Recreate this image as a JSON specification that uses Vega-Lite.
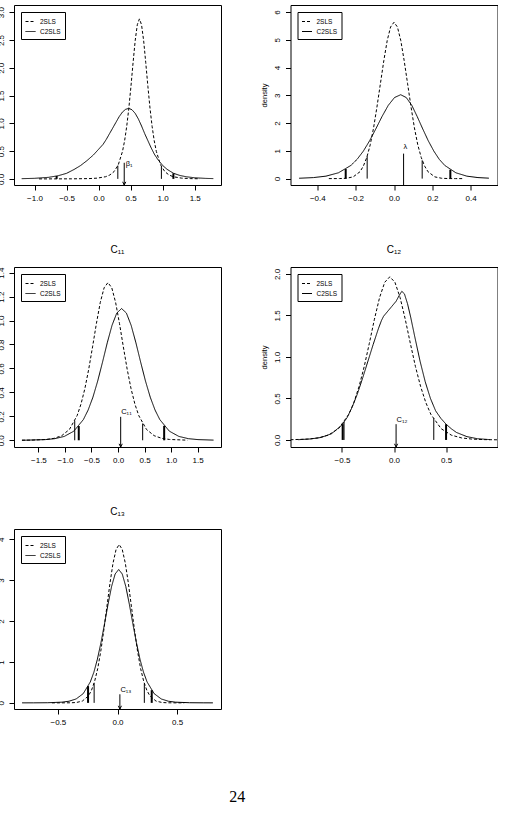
{
"$schema": "https://vega.github.io/schema/vega-lite/v6.json",
"background": "white",
"padding": {"left": -4, "top": 4, "right": 0, "bottom": 0},
"title": {"text": "24", "orient": "bottom", "font": "Liberation Serif", "fontSize": 16, "fontWeight": "normal", "offset": 62, "dx": -10, "anchor": "middle", "frame": "bounds", "color": "black"},
"datasets": {
"curves": [
{"p":"b1","s":"2SLS","x":-0.93,"y":0.0001},{"p":"b1","s":"2SLS","x":-0.69,"y":0.0003},{"p":"b1","s":"2SLS","x":-0.42,"y":0.0011},{"p":"b1","s":"2SLS","x":-0.155,"y":0.0052},{"p":"b1","s":"2SLS","x":-0.023,"y":0.0133},{"p":"b1","s":"2SLS","x":0.109,"y":0.0389},{"p":"b1","s":"2SLS","x":0.175,"y":0.0701},{"p":"b1","s":"2SLS","x":0.241,"y":0.131},{"p":"b1","s":"2SLS","x":0.307,"y":0.253},{"p":"b1","s":"2SLS","x":0.373,"y":0.494},{"p":"b1","s":"2SLS","x":0.406,"y":0.687},{"p":"b1","s":"2SLS","x":0.439,"y":0.945},{"p":"b1","s":"2SLS","x":0.472,"y":1.274},{"p":"b1","s":"2SLS","x":0.505,"y":1.667},{"p":"b1","s":"2SLS","x":0.538,"y":2.091},{"p":"b1","s":"2SLS","x":0.571,"y":2.488},{"p":"b1","s":"2SLS","x":0.604,"y":2.775},{"p":"b1","s":"2SLS","x":0.637,"y":2.88},{"p":"b1","s":"2SLS","x":0.67,"y":2.775},{"p":"b1","s":"2SLS","x":0.703,"y":2.488},{"p":"b1","s":"2SLS","x":0.736,"y":2.091},{"p":"b1","s":"2SLS","x":0.769,"y":1.667},{"p":"b1","s":"2SLS","x":0.802,"y":1.274},{"p":"b1","s":"2SLS","x":0.835,"y":0.945},{"p":"b1","s":"2SLS","x":0.868,"y":0.687},{"p":"b1","s":"2SLS","x":0.901,"y":0.494},{"p":"b1","s":"2SLS","x":0.967,"y":0.253},{"p":"b1","s":"2SLS","x":1.033,"y":0.131},{"p":"b1","s":"2SLS","x":1.099,"y":0.0701},{"p":"b1","s":"2SLS","x":1.165,"y":0.0389},{"p":"b1","s":"2SLS","x":1.297,"y":0.0133},{"p":"b1","s":"2SLS","x":1.429,"y":0.0052},{"p":"b1","s":"2SLS","x":1.58,"y":0.002},
{"p":"b1","s":"C2SLS","x":-1.2,"y":0.004},{"p":"b1","s":"C2SLS","x":-1.0,"y":0.01},{"p":"b1","s":"C2SLS","x":-0.78,"y":0.028},{"p":"b1","s":"C2SLS","x":-0.63,"y":0.057},{"p":"b1","s":"C2SLS","x":-0.5,"y":0.1},{"p":"b1","s":"C2SLS","x":-0.38,"y":0.171},{"p":"b1","s":"C2SLS","x":-0.28,"y":0.241},{"p":"b1","s":"C2SLS","x":-0.18,"y":0.33},{"p":"b1","s":"C2SLS","x":-0.08,"y":0.432},{"p":"b1","s":"C2SLS","x":0.0,"y":0.533},{"p":"b1","s":"C2SLS","x":0.07,"y":0.622},{"p":"b1","s":"C2SLS","x":0.12,"y":0.711},{"p":"b1","s":"C2SLS","x":0.17,"y":0.813},{"p":"b1","s":"C2SLS","x":0.22,"y":0.914},{"p":"b1","s":"C2SLS","x":0.27,"y":1.016},{"p":"b1","s":"C2SLS","x":0.32,"y":1.118},{"p":"b1","s":"C2SLS","x":0.37,"y":1.2},{"p":"b1","s":"C2SLS","x":0.42,"y":1.251},{"p":"b1","s":"C2SLS","x":0.47,"y":1.27},{"p":"b1","s":"C2SLS","x":0.52,"y":1.245},{"p":"b1","s":"C2SLS","x":0.57,"y":1.181},{"p":"b1","s":"C2SLS","x":0.62,"y":1.08},{"p":"b1","s":"C2SLS","x":0.67,"y":0.953},{"p":"b1","s":"C2SLS","x":0.72,"y":0.813},{"p":"b1","s":"C2SLS","x":0.77,"y":0.686},{"p":"b1","s":"C2SLS","x":0.82,"y":0.559},{"p":"b1","s":"C2SLS","x":0.87,"y":0.445},{"p":"b1","s":"C2SLS","x":0.92,"y":0.356},{"p":"b1","s":"C2SLS","x":1.0,"y":0.241},{"p":"b1","s":"C2SLS","x":1.07,"y":0.171},{"p":"b1","s":"C2SLS","x":1.17,"y":0.1},{"p":"b1","s":"C2SLS","x":1.27,"y":0.061},{"p":"b1","s":"C2SLS","x":1.37,"y":0.038},{"p":"b1","s":"C2SLS","x":1.5,"y":0.02},{"p":"b1","s":"C2SLS","x":1.67,"y":0.009},{"p":"b1","s":"C2SLS","x":1.79,"y":0.005},
{"p":"lam","s":"2SLS","x":-0.34,"y":0.0001},{"p":"lam","s":"2SLS","x":-0.32,"y":0.0002},{"p":"lam","s":"2SLS","x":-0.284,"y":0.0019},{"p":"lam","s":"2SLS","x":-0.2485,"y":0.0123},{"p":"lam","s":"2SLS","x":-0.213,"y":0.0625},{"p":"lam","s":"2SLS","x":-0.1775,"y":0.247},{"p":"lam","s":"2SLS","x":-0.16,"y":0.448},{"p":"lam","s":"2SLS","x":-0.142,"y":0.762},{"p":"lam","s":"2SLS","x":-0.124,"y":1.218},{"p":"lam","s":"2SLS","x":-0.1065,"y":1.828},{"p":"lam","s":"2SLS","x":-0.089,"y":2.577},{"p":"lam","s":"2SLS","x":-0.071,"y":3.415},{"p":"lam","s":"2SLS","x":-0.053,"y":4.25},{"p":"lam","s":"2SLS","x":-0.0355,"y":4.968},{"p":"lam","s":"2SLS","x":-0.018,"y":5.457},{"p":"lam","s":"2SLS","x":0,"y":5.63},{"p":"lam","s":"2SLS","x":0.018,"y":5.457},{"p":"lam","s":"2SLS","x":0.0355,"y":4.968},{"p":"lam","s":"2SLS","x":0.053,"y":4.25},{"p":"lam","s":"2SLS","x":0.071,"y":3.415},{"p":"lam","s":"2SLS","x":0.089,"y":2.577},{"p":"lam","s":"2SLS","x":0.1065,"y":1.828},{"p":"lam","s":"2SLS","x":0.124,"y":1.218},{"p":"lam","s":"2SLS","x":0.142,"y":0.762},{"p":"lam","s":"2SLS","x":0.16,"y":0.448},{"p":"lam","s":"2SLS","x":0.1775,"y":0.247},{"p":"lam","s":"2SLS","x":0.213,"y":0.0625},{"p":"lam","s":"2SLS","x":0.2485,"y":0.0123},{"p":"lam","s":"2SLS","x":0.284,"y":0.0019},{"p":"lam","s":"2SLS","x":0.32,"y":0.0002},{"p":"lam","s":"2SLS","x":0.36,"y":0.0001},
{"p":"lam","s":"C2SLS","x":-0.495,"y":0.014},{"p":"lam","s":"C2SLS","x":-0.485,"y":0.0158},{"p":"lam","s":"C2SLS","x":-0.42,"y":0.0371},{"p":"lam","s":"C2SLS","x":-0.355,"y":0.0885},{"p":"lam","s":"C2SLS","x":-0.29,"y":0.209},{"p":"lam","s":"C2SLS","x":-0.225,"y":0.474},{"p":"lam","s":"C2SLS","x":-0.1925,"y":0.695},{"p":"lam","s":"C2SLS","x":-0.16,"y":0.989},{"p":"lam","s":"C2SLS","x":-0.1275,"y":1.359},{"p":"lam","s":"C2SLS","x":-0.095,"y":1.788},{"p":"lam","s":"C2SLS","x":-0.0625,"y":2.235},{"p":"lam","s":"C2SLS","x":-0.03,"y":2.636},{"p":"lam","s":"C2SLS","x":0.0025,"y":2.918},{"p":"lam","s":"C2SLS","x":0.035,"y":3.02},{"p":"lam","s":"C2SLS","x":0.064,"y":2.918},{"p":"lam","s":"C2SLS","x":0.093,"y":2.636},{"p":"lam","s":"C2SLS","x":0.121,"y":2.235},{"p":"lam","s":"C2SLS","x":0.15,"y":1.788},{"p":"lam","s":"C2SLS","x":0.179,"y":1.359},{"p":"lam","s":"C2SLS","x":0.208,"y":0.989},{"p":"lam","s":"C2SLS","x":0.236,"y":0.695},{"p":"lam","s":"C2SLS","x":0.265,"y":0.474},{"p":"lam","s":"C2SLS","x":0.323,"y":0.209},{"p":"lam","s":"C2SLS","x":0.38,"y":0.0885},{"p":"lam","s":"C2SLS","x":0.438,"y":0.0371},{"p":"lam","s":"C2SLS","x":0.495,"y":0.0158},
{"p":"c11","s":"2SLS","x":-1.81,"y":0.0005},{"p":"c11","s":"2SLS","x":-1.64,"y":0.0013},{"p":"c11","s":"2SLS","x":-1.35,"y":0.0069},{"p":"c11","s":"2SLS","x":-1.205,"y":0.0162},{"p":"c11","s":"2SLS","x":-1.06,"y":0.0386},{"p":"c11","s":"2SLS","x":-0.915,"y":0.0911},{"p":"c11","s":"2SLS","x":-0.77,"y":0.207},{"p":"c11","s":"2SLS","x":-0.6975,"y":0.303},{"p":"c11","s":"2SLS","x":-0.625,"y":0.431},{"p":"c11","s":"2SLS","x":-0.5525,"y":0.593},{"p":"c11","s":"2SLS","x":-0.48,"y":0.78},{"p":"c11","s":"2SLS","x":-0.4075,"y":0.975},{"p":"c11","s":"2SLS","x":-0.335,"y":1.15},{"p":"c11","s":"2SLS","x":-0.2625,"y":1.273},{"p":"c11","s":"2SLS","x":-0.19,"y":1.317},{"p":"c11","s":"2SLS","x":-0.1175,"y":1.273},{"p":"c11","s":"2SLS","x":-0.045,"y":1.15},{"p":"c11","s":"2SLS","x":0.0275,"y":0.975},{"p":"c11","s":"2SLS","x":0.1,"y":0.78},{"p":"c11","s":"2SLS","x":0.1725,"y":0.593},{"p":"c11","s":"2SLS","x":0.245,"y":0.431},{"p":"c11","s":"2SLS","x":0.3175,"y":0.303},{"p":"c11","s":"2SLS","x":0.39,"y":0.207},{"p":"c11","s":"2SLS","x":0.535,"y":0.0911},{"p":"c11","s":"2SLS","x":0.68,"y":0.0386},{"p":"c11","s":"2SLS","x":0.825,"y":0.0162},{"p":"c11","s":"2SLS","x":0.97,"y":0.0069},{"p":"c11","s":"2SLS","x":1.31,"y":0.001},
{"p":"c11","s":"C2SLS","x":-1.81,"y":0.0008},{"p":"c11","s":"C2SLS","x":-1.733,"y":0.0011},{"p":"c11","s":"C2SLS","x":-1.373,"y":0.0057},{"p":"c11","s":"C2SLS","x":-1.193,"y":0.0135},{"p":"c11","s":"C2SLS","x":-1.013,"y":0.0322},{"p":"c11","s":"C2SLS","x":-0.833,"y":0.0761},{"p":"c11","s":"C2SLS","x":-0.653,"y":0.173},{"p":"c11","s":"C2SLS","x":-0.563,"y":0.253},{"p":"c11","s":"C2SLS","x":-0.473,"y":0.36},{"p":"c11","s":"C2SLS","x":-0.383,"y":0.495},{"p":"c11","s":"C2SLS","x":-0.293,"y":0.651},{"p":"c11","s":"C2SLS","x":-0.203,"y":0.814},{"p":"c11","s":"C2SLS","x":-0.113,"y":0.96},{"p":"c11","s":"C2SLS","x":-0.023,"y":1.063},{"p":"c11","s":"C2SLS","x":0.067,"y":1.1},{"p":"c11","s":"C2SLS","x":0.157,"y":1.063},{"p":"c11","s":"C2SLS","x":0.247,"y":0.96},{"p":"c11","s":"C2SLS","x":0.337,"y":0.814},{"p":"c11","s":"C2SLS","x":0.427,"y":0.651},{"p":"c11","s":"C2SLS","x":0.517,"y":0.495},{"p":"c11","s":"C2SLS","x":0.607,"y":0.36},{"p":"c11","s":"C2SLS","x":0.697,"y":0.253},{"p":"c11","s":"C2SLS","x":0.787,"y":0.173},{"p":"c11","s":"C2SLS","x":0.967,"y":0.0761},{"p":"c11","s":"C2SLS","x":1.147,"y":0.0322},{"p":"c11","s":"C2SLS","x":1.327,"y":0.0135},{"p":"c11","s":"C2SLS","x":1.507,"y":0.0057},{"p":"c11","s":"C2SLS","x":1.8,"y":0.0015},
{"p":"c12","s":"2SLS","x":-0.994,"y":0.0026},{"p":"c12","s":"2SLS","x":-0.828,"y":0.0103},{"p":"c12","s":"2SLS","x":-0.73,"y":0.0241},{"p":"c12","s":"2SLS","x":-0.631,"y":0.0576},{"p":"c12","s":"2SLS","x":-0.5325,"y":0.136},{"p":"c12","s":"2SLS","x":-0.434,"y":0.3085},{"p":"c12","s":"2SLS","x":-0.385,"y":0.452},{"p":"c12","s":"2SLS","x":-0.3355,"y":0.644},{"p":"c12","s":"2SLS","x":-0.286,"y":0.884},{"p":"c12","s":"2SLS","x":-0.237,"y":1.163},{"p":"c12","s":"2SLS","x":-0.188,"y":1.454},{"p":"c12","s":"2SLS","x":-0.1385,"y":1.715},{"p":"c12","s":"2SLS","x":-0.089,"y":1.899},{"p":"c12","s":"2SLS","x":-0.04,"y":1.965},{"p":"c12","s":"2SLS","x":0.009,"y":1.899},{"p":"c12","s":"2SLS","x":0.0585,"y":1.715},{"p":"c12","s":"2SLS","x":0.108,"y":1.454},{"p":"c12","s":"2SLS","x":0.157,"y":1.163},{"p":"c12","s":"2SLS","x":0.206,"y":0.884},{"p":"c12","s":"2SLS","x":0.2555,"y":0.644},{"p":"c12","s":"2SLS","x":0.305,"y":0.452},{"p":"c12","s":"2SLS","x":0.354,"y":0.3085},{"p":"c12","s":"2SLS","x":0.4525,"y":0.136},{"p":"c12","s":"2SLS","x":0.551,"y":0.0576},{"p":"c12","s":"2SLS","x":0.65,"y":0.0241},{"p":"c12","s":"2SLS","x":0.748,"y":0.0103},{"p":"c12","s":"2SLS","x":0.866,"y":0.004},{"p":"c12","s":"2SLS","x":0.994,"y":0.0015},
{"p":"c12","s":"C2SLS","x":-0.92,"y":0.003},{"p":"c12","s":"C2SLS","x":-0.8,"y":0.012},{"p":"c12","s":"C2SLS","x":-0.7,"y":0.03},{"p":"c12","s":"C2SLS","x":-0.6,"y":0.075},{"p":"c12","s":"C2SLS","x":-0.5,"y":0.18},{"p":"c12","s":"C2SLS","x":-0.45,"y":0.27},{"p":"c12","s":"C2SLS","x":-0.4,"y":0.4},{"p":"c12","s":"C2SLS","x":-0.35,"y":0.56},{"p":"c12","s":"C2SLS","x":-0.3,"y":0.75},{"p":"c12","s":"C2SLS","x":-0.25,"y":0.95},{"p":"c12","s":"C2SLS","x":-0.2,"y":1.15},{"p":"c12","s":"C2SLS","x":-0.15,"y":1.34},{"p":"c12","s":"C2SLS","x":-0.12,"y":1.44},{"p":"c12","s":"C2SLS","x":-0.1,"y":1.49},{"p":"c12","s":"C2SLS","x":-0.06,"y":1.55},{"p":"c12","s":"C2SLS","x":-0.02,"y":1.61},{"p":"c12","s":"C2SLS","x":0.02,"y":1.67},{"p":"c12","s":"C2SLS","x":0.05,"y":1.74},{"p":"c12","s":"C2SLS","x":0.075,"y":1.79},{"p":"c12","s":"C2SLS","x":0.1,"y":1.76},{"p":"c12","s":"C2SLS","x":0.13,"y":1.64},{"p":"c12","s":"C2SLS","x":0.16,"y":1.48},{"p":"c12","s":"C2SLS","x":0.2,"y":1.24},{"p":"c12","s":"C2SLS","x":0.25,"y":0.95},{"p":"c12","s":"C2SLS","x":0.3,"y":0.7},{"p":"c12","s":"C2SLS","x":0.35,"y":0.5},{"p":"c12","s":"C2SLS","x":0.4,"y":0.35},{"p":"c12","s":"C2SLS","x":0.45,"y":0.26},{"p":"c12","s":"C2SLS","x":0.5,"y":0.19},{"p":"c12","s":"C2SLS","x":0.55,"y":0.135},{"p":"c12","s":"C2SLS","x":0.6,"y":0.09},{"p":"c12","s":"C2SLS","x":0.7,"y":0.04},{"p":"c12","s":"C2SLS","x":0.8,"y":0.015},{"p":"c12","s":"C2SLS","x":0.92,"y":0.004},
{"p":"c13","s":"2SLS","x":-0.55,"y":0.0},{"p":"c13","s":"2SLS","x":-0.501,"y":0.00001},{"p":"c13","s":"2SLS","x":-0.398,"y":0.0013},{"p":"c13","s":"2SLS","x":-0.3465,"y":0.0085},{"p":"c13","s":"2SLS","x":-0.295,"y":0.043},{"p":"c13","s":"2SLS","x":-0.2435,"y":0.17},{"p":"c13","s":"2SLS","x":-0.218,"y":0.308},{"p":"c13","s":"2SLS","x":-0.192,"y":0.524},{"p":"c13","s":"2SLS","x":-0.166,"y":0.837},{"p":"c13","s":"2SLS","x":-0.1405,"y":1.257},{"p":"c13","s":"2SLS","x":-0.115,"y":1.772},{"p":"c13","s":"2SLS","x":-0.089,"y":2.347},{"p":"c13","s":"2SLS","x":-0.0633,"y":2.921},{"p":"c13","s":"2SLS","x":-0.0375,"y":3.415},{"p":"c13","s":"2SLS","x":-0.0118,"y":3.751},{"p":"c13","s":"2SLS","x":0.014,"y":3.87},{"p":"c13","s":"2SLS","x":0.0398,"y":3.751},{"p":"c13","s":"2SLS","x":0.0655,"y":3.415},{"p":"c13","s":"2SLS","x":0.0913,"y":2.921},{"p":"c13","s":"2SLS","x":0.117,"y":2.347},{"p":"c13","s":"2SLS","x":0.143,"y":1.772},{"p":"c13","s":"2SLS","x":0.1685,"y":1.257},{"p":"c13","s":"2SLS","x":0.194,"y":0.837},{"p":"c13","s":"2SLS","x":0.22,"y":0.524},{"p":"c13","s":"2SLS","x":0.246,"y":0.308},{"p":"c13","s":"2SLS","x":0.2715,"y":0.17},{"p":"c13","s":"2SLS","x":0.323,"y":0.043},{"p":"c13","s":"2SLS","x":0.3745,"y":0.0085},{"p":"c13","s":"2SLS","x":0.426,"y":0.0013},{"p":"c13","s":"2SLS","x":0.529,"y":0.00001},{"p":"c13","s":"2SLS","x":0.56,"y":0.0},
{"p":"c13","s":"C2SLS","x":-0.8,"y":0.0002},{"p":"c13","s":"C2SLS","x":-0.704,"y":0.00075},{"p":"c13","s":"C2SLS","x":-0.585,"y":0.0033},{"p":"c13","s":"C2SLS","x":-0.466,"y":0.017},{"p":"c13","s":"C2SLS","x":-0.4065,"y":0.04},{"p":"c13","s":"C2SLS","x":-0.347,"y":0.0955},{"p":"c13","s":"C2SLS","x":-0.2875,"y":0.2256},{"p":"c13","s":"C2SLS","x":-0.228,"y":0.512},{"p":"c13","s":"C2SLS","x":-0.198,"y":0.75},{"p":"c13","s":"C2SLS","x":-0.1685,"y":1.068},{"p":"c13","s":"C2SLS","x":-0.139,"y":1.467},{"p":"c13","s":"C2SLS","x":-0.109,"y":1.93},{"p":"c13","s":"C2SLS","x":-0.0793,"y":2.412},{"p":"c13","s":"C2SLS","x":-0.0495,"y":2.846},{"p":"c13","s":"C2SLS","x":-0.0198,"y":3.15},{"p":"c13","s":"C2SLS","x":0.01,"y":3.26},{"p":"c13","s":"C2SLS","x":0.0398,"y":3.15},{"p":"c13","s":"C2SLS","x":0.0695,"y":2.846},{"p":"c13","s":"C2SLS","x":0.0993,"y":2.412},{"p":"c13","s":"C2SLS","x":0.129,"y":1.93},{"p":"c13","s":"C2SLS","x":0.159,"y":1.467},{"p":"c13","s":"C2SLS","x":0.1885,"y":1.068},{"p":"c13","s":"C2SLS","x":0.218,"y":0.75},{"p":"c13","s":"C2SLS","x":0.248,"y":0.512},{"p":"c13","s":"C2SLS","x":0.3075,"y":0.2256},{"p":"c13","s":"C2SLS","x":0.367,"y":0.0955},{"p":"c13","s":"C2SLS","x":0.4265,"y":0.04},{"p":"c13","s":"C2SLS","x":0.486,"y":0.017},{"p":"c13","s":"C2SLS","x":0.605,"y":0.0033},{"p":"c13","s":"C2SLS","x":0.724,"y":0.00075},{"p":"c13","s":"C2SLS","x":0.8,"y":0.0003}
],
"qmarks": [
{"p":"b1","s":"2SLS","x":0.3,"h":0.24},{"p":"b1","s":"2SLS","x":0.98,"h":0.225},{"p":"b1","s":"C2SLS","x":-0.655,"h":0.052},{"p":"b1","s":"C2SLS","x":1.167,"h":0.1},
{"p":"lam","s":"2SLS","x":-0.14,"h":0.81},{"p":"lam","s":"2SLS","x":0.147,"h":0.66},{"p":"lam","s":"C2SLS","x":-0.252,"h":0.345},{"p":"lam","s":"C2SLS","x":0.294,"h":0.32},
{"p":"c11","s":"2SLS","x":-0.816,"h":0.165},{"p":"c11","s":"2SLS","x":0.464,"h":0.14},{"p":"c11","s":"C2SLS","x":-0.74,"h":0.119},{"p":"c11","s":"C2SLS","x":0.869,"h":0.121},
{"p":"c12","s":"2SLS","x":-0.48,"h":0.22},{"p":"c12","s":"2SLS","x":0.382,"h":0.26},{"p":"c12","s":"C2SLS","x":-0.493,"h":0.19},{"p":"c12","s":"C2SLS","x":0.5,"h":0.19},
{"p":"c13","s":"2SLS","x":-0.196,"h":0.48},{"p":"c13","s":"2SLS","x":0.225,"h":0.47},{"p":"c13","s":"C2SLS","x":-0.247,"h":0.41},{"p":"c13","s":"C2SLS","x":0.287,"h":0.31}
],
"arrows": [
{"p":"b1","x":0.4,"top":0.29,"bot":-0.11,"label":"β₁","ly":0.19},
{"p":"lam","x":0.05,"top":0.9,"bot":-0.23,"label":"λ","ly":1.0},
{"p":"c11","x":0.05,"top":0.196,"bot":-0.056,"label":"C₁₁","ly":0.2},
{"p":"c12","x":0.02,"top":0.19,"bot":-0.085,"label":"C₁₂","ly":0.19},
{"p":"c13","x":0.02,"top":0.21,"bot":-0.15,"label":"C₁₃","ly":0.21}
]
},
"columns": 2,
"spacing": {"row": 82, "column": 69.5},
"bounds": "flush",
"resolve": {"scale": {"x": "independent", "y": "independent", "strokeDash": "independent"}, "legend": {"strokeDash": "independent"}},
"concat": [
{
"width": 207, "height": 180,
"layer": [
{"data": {"name": "curves"}, "transform": [{"filter": "datum.p === 'b1'"}], "mark": {"type": "line", "clip": true, "color": "black", "strokeWidth": 1},
 "encoding": {
  "x": {"field": "x", "type": "quantitative", "scale": {"domain": [-1.32, 1.91], "nice": false, "zero": false}, "axis": {"title": null, "values": [-1, -0.5, 0, 0.5, 1, 1.5], "tickCount": 30, "format": ".1f", "labelOverlap": false}},
  "y": {"field": "y", "type": "quantitative", "scale": {"domain": [-0.11, 3.13], "nice": false, "zero": false}, "axis": {"title": null, "values": [0, 0.5, 1, 1.5, 2, 2.5, 3], "tickCount": 30, "format": ".1f", "labelOverlap": false}},
  "strokeDash": {"field": "s", "type": "nominal", "scale": {"domain": ["2SLS", "C2SLS"], "range": [[3, 2], [1, 0]]}, "legend": {"title": null}}}},
{"data": {"name": "qmarks"}, "transform": [{"filter": "datum.p === 'b1' && datum.s === '2SLS'"}], "mark": {"type": "rule", "color": "black", "strokeWidth": 1},
 "encoding": {"x": {"field": "x", "type": "quantitative"}, "y": {"field": "h", "type": "quantitative"}, "y2": {"datum": 0}}},
{"data": {"name": "qmarks"}, "transform": [{"filter": "datum.p === 'b1' && datum.s === 'C2SLS'"}], "mark": {"type": "rule", "color": "black", "strokeWidth": 2},
 "encoding": {"x": {"field": "x", "type": "quantitative"}, "y": {"field": "h", "type": "quantitative"}, "y2": {"datum": 0}}},
{"data": {"name": "arrows"}, "transform": [{"filter": "datum.p === 'b1'"}], "mark": {"type": "rule", "color": "black", "strokeWidth": 1},
 "encoding": {"x": {"field": "x", "type": "quantitative"}, "y": {"field": "top", "type": "quantitative"}, "y2": {"field": "bot"}}},
{"data": {"name": "arrows"}, "transform": [{"filter": "datum.p === 'b1'"}], "mark": {"type": "point", "shape": "M-0.8,-1.6L0,0L0.8,-1.6", "filled": false, "stroke": "black", "strokeWidth": 1, "size": 16, "opacity": 1},
 "encoding": {"x": {"field": "x", "type": "quantitative"}, "y": {"field": "bot", "type": "quantitative"}}},
{"data": {"name": "arrows"}, "transform": [{"filter": "datum.p === 'b1'"}], "mark": {"type": "text", "align": "left", "baseline": "bottom", "dx": 1.5, "fontSize": 7.5, "color": "black", "font": "Liberation Sans"},
 "encoding": {"x": {"field": "x", "type": "quantitative"}, "y": {"field": "ly", "type": "quantitative"}, "text": {"field": "label", "type": "nominal"}}}
]
},
{
"width": 207, "height": 180,
"layer": [
{"data": {"name": "curves"}, "transform": [{"filter": "datum.p === 'lam'"}], "mark": {"type": "line", "clip": true, "color": "black", "strokeWidth": 1},
 "encoding": {
  "x": {"field": "x", "type": "quantitative", "scale": {"domain": [-0.54, 0.54], "nice": false, "zero": false}, "axis": {"title": null, "values": [-0.4, -0.2, 0, 0.2, 0.4], "tickCount": 30, "format": ".1f", "labelOverlap": false}},
  "y": {"field": "y", "type": "quantitative", "scale": {"domain": [-0.23, 6.25], "nice": false, "zero": false}, "axis": {"title": "density", "values": [0, 1, 2, 3, 4, 5, 6], "tickCount": 30, "format": "d", "labelOverlap": false}},
  "strokeDash": {"field": "s", "type": "nominal", "scale": {"domain": ["2SLS", "C2SLS"], "range": [[3, 2], [1, 0]]}, "legend": {"title": null}}}},
{"data": {"name": "qmarks"}, "transform": [{"filter": "datum.p === 'lam' && datum.s === '2SLS'"}], "mark": {"type": "rule", "color": "black", "strokeWidth": 1},
 "encoding": {"x": {"field": "x", "type": "quantitative"}, "y": {"field": "h", "type": "quantitative"}, "y2": {"datum": 0}}},
{"data": {"name": "qmarks"}, "transform": [{"filter": "datum.p === 'lam' && datum.s === 'C2SLS'"}], "mark": {"type": "rule", "color": "black", "strokeWidth": 2},
 "encoding": {"x": {"field": "x", "type": "quantitative"}, "y": {"field": "h", "type": "quantitative"}, "y2": {"datum": 0}}},
{"data": {"name": "arrows"}, "transform": [{"filter": "datum.p === 'lam'"}], "mark": {"type": "rule", "color": "black", "strokeWidth": 1},
 "encoding": {"x": {"field": "x", "type": "quantitative"}, "y": {"field": "top", "type": "quantitative"}, "y2": {"field": "bot"}}},
{"data": {"name": "arrows"}, "transform": [{"filter": "datum.p === 'lam'"}], "mark": {"type": "text", "align": "left", "baseline": "bottom", "dx": 0, "fontSize": 7.5, "color": "black", "font": "Liberation Sans"},
 "encoding": {"x": {"field": "x", "type": "quantitative"}, "y": {"field": "ly", "type": "quantitative"}, "text": {"field": "label", "type": "nominal"}}}
]
},
{
"width": 207, "height": 180,
"title": {"text": "C₁₁"},
"layer": [
{"data": {"name": "curves"}, "transform": [{"filter": "datum.p === 'c11'"}], "mark": {"type": "line", "clip": true, "color": "black", "strokeWidth": 1},
 "encoding": {
  "x": {"field": "x", "type": "quantitative", "scale": {"domain": [-1.96, 1.94], "nice": false, "zero": false}, "axis": {"title": null, "values": [-1.5, -1, -0.5, 0, 0.5, 1, 1.5], "tickCount": 30, "format": ".1f", "labelOverlap": false}},
  "y": {"field": "y", "type": "quantitative", "scale": {"domain": [-0.056, 1.447], "nice": false, "zero": false}, "axis": {"title": null, "values": [0, 0.2, 0.4, 0.6, 0.8, 1, 1.2, 1.4], "tickCount": 30, "format": ".1f", "labelOverlap": false}},
  "strokeDash": {"field": "s", "type": "nominal", "scale": {"domain": ["2SLS", "C2SLS"], "range": [[3, 2], [1, 0]]}, "legend": {"title": null}}}},
{"data": {"name": "qmarks"}, "transform": [{"filter": "datum.p === 'c11' && datum.s === '2SLS'"}], "mark": {"type": "rule", "color": "black", "strokeWidth": 1},
 "encoding": {"x": {"field": "x", "type": "quantitative"}, "y": {"field": "h", "type": "quantitative"}, "y2": {"datum": 0}}},
{"data": {"name": "qmarks"}, "transform": [{"filter": "datum.p === 'c11' && datum.s === 'C2SLS'"}], "mark": {"type": "rule", "color": "black", "strokeWidth": 2},
 "encoding": {"x": {"field": "x", "type": "quantitative"}, "y": {"field": "h", "type": "quantitative"}, "y2": {"datum": 0}}},
{"data": {"name": "arrows"}, "transform": [{"filter": "datum.p === 'c11'"}], "mark": {"type": "rule", "color": "black", "strokeWidth": 1},
 "encoding": {"x": {"field": "x", "type": "quantitative"}, "y": {"field": "top", "type": "quantitative"}, "y2": {"field": "bot"}}},
{"data": {"name": "arrows"}, "transform": [{"filter": "datum.p === 'c11'"}], "mark": {"type": "point", "shape": "M-0.8,-1.6L0,0L0.8,-1.6", "filled": false, "stroke": "black", "strokeWidth": 1, "size": 16, "opacity": 1},
 "encoding": {"x": {"field": "x", "type": "quantitative"}, "y": {"field": "bot", "type": "quantitative"}}},
{"data": {"name": "arrows"}, "transform": [{"filter": "datum.p === 'c11'"}], "mark": {"type": "text", "align": "left", "baseline": "bottom", "dx": 0.5, "fontSize": 7.5, "color": "black", "font": "Liberation Sans"},
 "encoding": {"x": {"field": "x", "type": "quantitative"}, "y": {"field": "ly", "type": "quantitative"}, "text": {"field": "label", "type": "nominal"}}}
]
},
{
"width": 207, "height": 180,
"title": {"text": "C₁₂"},
"layer": [
{"data": {"name": "curves"}, "transform": [{"filter": "datum.p === 'c12'"}], "mark": {"type": "line", "clip": true, "color": "black", "strokeWidth": 1},
 "encoding": {
  "x": {"field": "x", "type": "quantitative", "scale": {"domain": [-0.994, 0.994], "nice": false, "zero": false}, "axis": {"title": null, "values": [-0.5, 0, 0.5], "tickCount": 30, "format": ".1f", "labelOverlap": false}},
  "y": {"field": "y", "type": "quantitative", "scale": {"domain": [-0.085, 2.083], "nice": false, "zero": false}, "axis": {"title": "density", "values": [0, 0.5, 1, 1.5, 2], "tickCount": 30, "format": ".1f", "labelOverlap": false}},
  "strokeDash": {"field": "s", "type": "nominal", "scale": {"domain": ["2SLS", "C2SLS"], "range": [[3, 2], [1, 0]]}, "legend": {"title": null}}}},
{"data": {"name": "qmarks"}, "transform": [{"filter": "datum.p === 'c12' && datum.s === '2SLS'"}], "mark": {"type": "rule", "color": "black", "strokeWidth": 1},
 "encoding": {"x": {"field": "x", "type": "quantitative"}, "y": {"field": "h", "type": "quantitative"}, "y2": {"datum": 0}}},
{"data": {"name": "qmarks"}, "transform": [{"filter": "datum.p === 'c12' && datum.s === 'C2SLS'"}], "mark": {"type": "rule", "color": "black", "strokeWidth": 2},
 "encoding": {"x": {"field": "x", "type": "quantitative"}, "y": {"field": "h", "type": "quantitative"}, "y2": {"datum": 0}}},
{"data": {"name": "arrows"}, "transform": [{"filter": "datum.p === 'c12'"}], "mark": {"type": "rule", "color": "black", "strokeWidth": 1},
 "encoding": {"x": {"field": "x", "type": "quantitative"}, "y": {"field": "top", "type": "quantitative"}, "y2": {"field": "bot"}}},
{"data": {"name": "arrows"}, "transform": [{"filter": "datum.p === 'c12'"}], "mark": {"type": "point", "shape": "M-0.8,-1.6L0,0L0.8,-1.6", "filled": false, "stroke": "black", "strokeWidth": 1, "size": 16, "opacity": 1},
 "encoding": {"x": {"field": "x", "type": "quantitative"}, "y": {"field": "bot", "type": "quantitative"}}},
{"data": {"name": "arrows"}, "transform": [{"filter": "datum.p === 'c12'"}], "mark": {"type": "text", "align": "left", "baseline": "bottom", "dx": 0.5, "fontSize": 7.5, "color": "black", "font": "Liberation Sans"},
 "encoding": {"x": {"field": "x", "type": "quantitative"}, "y": {"field": "ly", "type": "quantitative"}, "text": {"field": "label", "type": "nominal"}}}
]
},
{
"width": 207, "height": 180,
"title": {"text": "C₁₃"},
"layer": [
{"data": {"name": "curves"}, "transform": [{"filter": "datum.p === 'c13'"}], "mark": {"type": "line", "clip": true, "color": "black", "strokeWidth": 1},
 "encoding": {
  "x": {"field": "x", "type": "quantitative", "scale": {"domain": [-0.868, 0.868], "nice": false, "zero": false}, "axis": {"title": null, "values": [-0.5, 0, 0.5], "tickCount": 30, "format": ".1f", "labelOverlap": false}},
  "y": {"field": "y", "type": "quantitative", "scale": {"domain": [-0.15, 4.25], "nice": false, "zero": false}, "axis": {"title": null, "values": [0, 1, 2, 3, 4], "tickCount": 30, "format": "d", "labelOverlap": false}},
  "strokeDash": {"field": "s", "type": "nominal", "scale": {"domain": ["2SLS", "C2SLS"], "range": [[3, 2], [1, 0]]}, "legend": {"title": null}}}},
{"data": {"name": "qmarks"}, "transform": [{"filter": "datum.p === 'c13' && datum.s === '2SLS'"}], "mark": {"type": "rule", "color": "black", "strokeWidth": 1},
 "encoding": {"x": {"field": "x", "type": "quantitative"}, "y": {"field": "h", "type": "quantitative"}, "y2": {"datum": 0}}},
{"data": {"name": "qmarks"}, "transform": [{"filter": "datum.p === 'c13' && datum.s === 'C2SLS'"}], "mark": {"type": "rule", "color": "black", "strokeWidth": 2},
 "encoding": {"x": {"field": "x", "type": "quantitative"}, "y": {"field": "h", "type": "quantitative"}, "y2": {"datum": 0}}},
{"data": {"name": "arrows"}, "transform": [{"filter": "datum.p === 'c13'"}], "mark": {"type": "rule", "color": "black", "strokeWidth": 1},
 "encoding": {"x": {"field": "x", "type": "quantitative"}, "y": {"field": "top", "type": "quantitative"}, "y2": {"field": "bot"}}},
{"data": {"name": "arrows"}, "transform": [{"filter": "datum.p === 'c13'"}], "mark": {"type": "point", "shape": "M-0.8,-1.6L0,0L0.8,-1.6", "filled": false, "stroke": "black", "strokeWidth": 1, "size": 16, "opacity": 1},
 "encoding": {"x": {"field": "x", "type": "quantitative"}, "y": {"field": "bot", "type": "quantitative"}}},
{"data": {"name": "arrows"}, "transform": [{"filter": "datum.p === 'c13'"}], "mark": {"type": "text", "align": "left", "baseline": "bottom", "dx": 0.5, "fontSize": 7.5, "color": "black", "font": "Liberation Sans"},
 "encoding": {"x": {"field": "x", "type": "quantitative"}, "y": {"field": "ly", "type": "quantitative"}, "text": {"field": "label", "type": "nominal"}}}
]
}
],
"config": {
 "font": "Liberation Sans",
 "view": {"stroke": "black", "strokeWidth": 1},
 "axis": {"domain": false, "grid": false, "ticks": true, "tickColor": "black", "tickSize": 5, "tickWidth": 1, "labelFont": "Liberation Sans", "labelFontSize": 8, "labelColor": "black", "labelPadding": 4, "labelFlush": false, "labelOverlap": false, "titleFont": "Liberation Sans", "titleFontSize": 7.5, "titleFontWeight": "normal", "titleColor": "black", "titlePadding": 5},
 "axisY": {"labelAngle": -90, "labelAlign": "center", "labelBaseline": "bottom"},
 "legend": {"orient": "top-left", "offset": 7, "strokeColor": "black", "fillColor": "white", "padding": 4, "cornerRadius": 0, "labelFont": "Liberation Sans", "labelFontSize": 6.5, "labelColor": "black", "labelOffset": 4, "rowPadding": 1, "symbolType": "stroke", "symbolSize": 100, "symbolStrokeWidth": 1, "symbolStrokeColor": "black"},
 "title": {"font": "Liberation Sans", "fontSize": 10, "fontWeight": "normal", "color": "black", "offset": 12, "frame": "group", "anchor": "middle"}
}
}
